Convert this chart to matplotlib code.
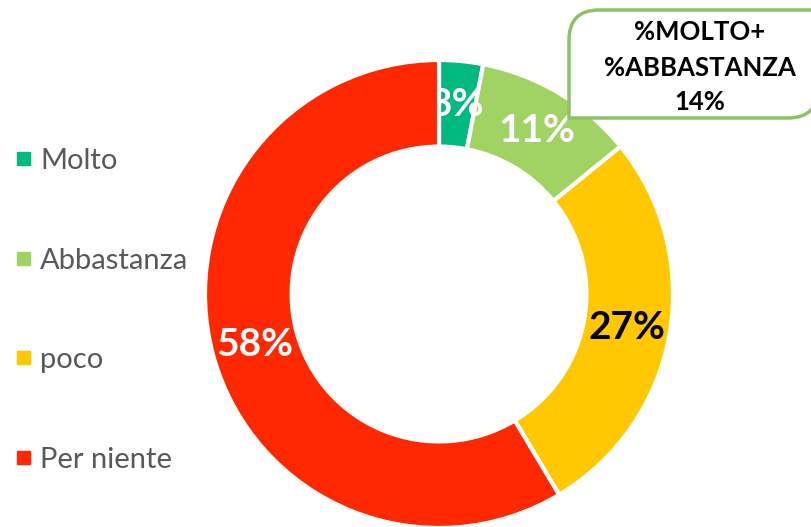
import numpy as np
import matplotlib
matplotlib.use("Agg")
import matplotlib.pyplot as plt
from matplotlib.patches import PathPatch, Rectangle
from matplotlib.path import Path

plt.rcParams['font.family'] = ['Lato', 'DejaVu Sans']

categories = ["Molto", "Abbastanza", "poco", "Per niente"]
values = [3, 11, 27, 58]
colors = ["#00B97E", "#A1D264", "#FFC800", "#FF2800"]
label_colors = ["white", "white", "black", "white"]
box_lines = ["%MOLTO+", "%ABBASTANZA", "14%"]

W, H = 812, 527
fig = plt.figure(figsize=(W / 100, H / 100), dpi=100)
ax = fig.add_axes([0, 0, 1, 1])

cx, cy = 439, H - 294
r_out = 234
ring = 0.37

wedges, _ = ax.pie(values, colors=colors, startangle=90, counterclock=False,
                   center=(cx, cy), radius=r_out,
                   wedgeprops=dict(width=r_out * ring, edgecolor="white", linewidth=3))
# last slice is drawn on top of the small label, like in the original
wedges[-1].set_zorder(3)

# percentages in the middle of the ring
r_mid = r_out * (1 - ring / 2)
for i, (w, v, c) in enumerate(zip(wedges, values, label_colors)):
    ang = np.deg2rad((w.theta1 + w.theta2) / 2)
    ax.text(cx + r_mid * np.cos(ang), cy + r_mid * np.sin(ang), f"{v}%",
            ha="center", va="center", fontsize=28, fontweight="bold", color=c,
            zorder=2.5 if i == 0 else 4)

# legend on the left
leg_y = [158, 258, 357, 457]
for name, col, y in zip(categories, colors, leg_y):
    ax.add_patch(Rectangle((17, H - y - 7), 13, 13, color=col))
    ax.text(40, H - y - 3, name, ha="left", va="center", fontsize=21, color="#595959")

# callout box: top-left and bottom-right corners rounded
x0, x1 = 569, 818
yt, yb = H - 10, H - 118
rr = 30
verts = [(x0, yb), (x0, yt - rr), (x0, yt), (x0 + rr, yt), (x1, yt),
         (x1, yb + rr), (x1, yb), (x1 - rr, yb), (x0, yb)]
codes = [Path.MOVETO, Path.LINETO, Path.CURVE3, Path.CURVE3, Path.LINETO,
         Path.LINETO, Path.CURVE3, Path.CURVE3, Path.CLOSEPOLY]
box = PathPatch(Path(verts, codes), facecolor="white", edgecolor="#8CC168",
                linewidth=2.5, zorder=5)
ax.add_patch(box)
for txt, y in zip(box_lines, [32, 68, 102]):
    ax.text(700, H - y, txt, ha="center", va="center", fontsize=18.5,
            fontweight="bold", color="black", zorder=6)

ax.set_xlim(0, W)
ax.set_ylim(0, H)
ax.set_aspect("equal")
ax.axis("off")

fig.savefig("out.png", dpi=100)
